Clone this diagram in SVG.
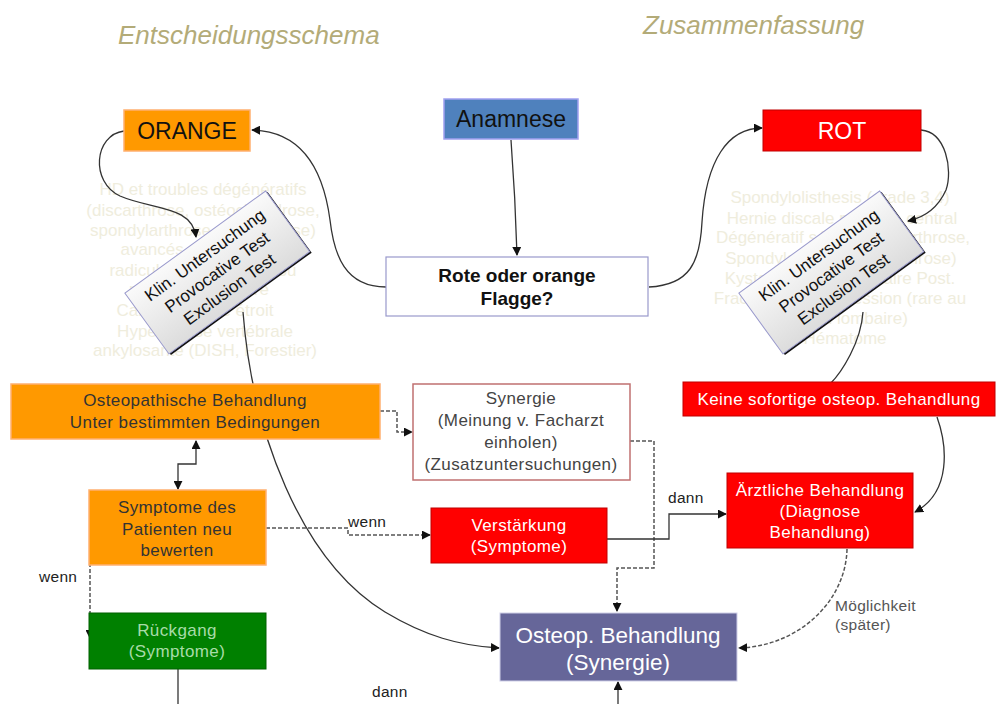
<svg xmlns="http://www.w3.org/2000/svg" width="999" height="704" viewBox="0 0 999 704">
<defs>
<marker id="a" viewBox="0 0 10 10" refX="9" refY="5" markerWidth="9" markerHeight="9" markerUnits="userSpaceOnUse" orient="auto-start-reverse"><path d="M0,0 L10,5 L0,10 z" fill="#111"/></marker>
<linearGradient id="g" x1="0" y1="0" x2="0" y2="1"><stop offset="0" stop-color="#fafafa"/><stop offset="1" stop-color="#dcdcdc"/></linearGradient>
</defs>
<style>
text{font-family:"Liberation Sans",Arial,sans-serif;text-anchor:middle}
.title{font-size:26px;font-style:italic;fill:#b3ab78;text-anchor:start}
.faint{font-size:17px;fill:#efeddd}
.c{fill:none;stroke:#333;stroke-width:1.3}
.d{fill:none;stroke:#555;stroke-width:1.5;stroke-dasharray:4,2}
.orange{fill:#ff9900;stroke:#ffb070;stroke-width:1.5}
.red{fill:#ff0000;stroke:#c00000;stroke-width:1}
.lab{font-size:15.5px;fill:#222;text-anchor:start;letter-spacing:0.3px}
.bt{font-size:17px;fill:#333;letter-spacing:0.4px}
.wt{font-size:17px;fill:#fff;letter-spacing:0.4px}
.rb{fill:url(#g);stroke:#9999cc;stroke-width:1}
.rt{font-size:17px;fill:#111}
</style>

<text class="title" x="118" y="44">Entscheidungsschema</text>
<text class="title" x="643" y="34">Zusammenfassung</text>

<g id="faint-left">
<text class="faint" x="203" y="195">HD et troubles dégénératifs</text>
<text class="faint" x="203" y="216">(discarthrose, ostéochondrose,</text>
<text class="faint" x="203" y="236">spondylarthrose, uncarthrose)</text>
<text class="faint" x="205" y="255">avancés, compression</text>
<text class="faint" x="203" y="276">radiculalgie déficitaire ou</text>
<text class="faint" x="199" y="295">pseudo-radiculaire</text>
<text class="faint" x="195" y="316">Canal lombaire étroit</text>
<text class="faint" x="205" y="337">Hyperostose vertébrale</text>
<text class="faint" x="205" y="356">ankylosante (DISH, Forestier)</text>
</g>
<g id="faint-right">
<text class="faint" x="840" y="203">Spondylolisthesis (grade 3,4)</text>
<text class="faint" x="842" y="224">Hernie discale massive central</text>
<text class="faint" x="843" y="243">Dégénératif sévère (Discarthrose,</text>
<text class="faint" x="841" y="264">Spondylarthrose, Uncarthrose)</text>
<text class="faint" x="840" y="284">Kyste synovial articulaire Post.</text>
<text class="faint" x="840" y="304">Fracture de compression (rare au</text>
<text class="faint" x="845" y="324">niveau lombaire)</text>
<text class="faint" x="845" y="344">Hématome</text>
</g>

<g id="connectors">
<path class="c" d="M511,140 C514,180 516,220 517,255" marker-end="url(#a)"/>
<path class="c" d="M386,287 C345,287 334,255 330,220 C322,160 295,131 252,130" marker-end="url(#a)"/>
<path class="c" d="M649,287 C690,285 700,262 702,222 C706,160 728,128 762,128" marker-end="url(#a)"/>
<path class="c" d="M124,131 C94,135 90,182 120,196 C152,210 192,205 196,237" marker-end="url(#a)"/>
<path class="c" d="M921,130 C946,132 953,170 946,190 C937,210 922,218 908,221" marker-end="url(#a)"/>
<path class="c" d="M243,312 C252,430 300,560 385,612 C425,636 460,646 499,648" marker-end="url(#a)"/>
<path class="c" d="M863,312 C861,342 842,372 830,384"/>
<path class="c" d="M937,417 C947,445 952,492 915,512" marker-end="url(#a)"/>
<path class="c" d="M196,441 V464 H178 V489" stroke-width="1.8" marker-start="url(#a)" marker-end="url(#a)"/>
<path class="d" d="M380,411 H397 V432 H412" marker-end="url(#a)"/>
<path class="d" d="M630,441 H654 V568 H617 V611" marker-end="url(#a)"/>
<path class="d" d="M266,528 H348 V535 H430" marker-end="url(#a)"/>
<path class="d" d="M90,527 V638" marker-end="url(#a)"/>
<path class="c" d="M607,539 H669 V514 H726" stroke-width="2" marker-end="url(#a)"/>
<path class="d" d="M847,549 C846,600 800,646 739,648" marker-end="url(#a)"/>
<path class="c" d="M178,669 V704"/>
<path class="c" d="M618,704 V682" stroke-width="1.8" marker-end="url(#a)"/>
<text class="lab" x="348" y="527">wenn</text>
<text class="lab" x="39" y="582">wenn</text>
<text class="lab" x="668" y="503">dann</text>
<text class="lab" x="372" y="697">dann</text>
<text class="lab" x="835" y="611" style="fill:#555">Möglichkeit</text>
<text class="lab" x="835" y="630" style="fill:#555">(später)</text>
</g>

<g id="orange">
<rect class="orange" x="124" y="110" width="126" height="41"/>
<text x="187" y="139" font-size="23" fill="#111">ORANGE</text>
</g>
<g id="anamnese">
<rect x="444" y="99" width="134" height="40" fill="#4f81bd" stroke="#a0a0f0" stroke-width="1.5"/>
<text x="511" y="127" font-size="23" fill="#111">Anamnese</text>
</g>
<g id="rot">
<rect class="red" x="763" y="110" width="158" height="41"/>
<text x="842" y="139" font-size="23" fill="#fff">ROT</text>
</g>
<g id="flagge">
<rect x="386" y="257" width="262" height="59" fill="#fff" stroke="#9999cc" stroke-width="1.2"/>
<text x="517" y="282" font-size="19" font-weight="bold" fill="#111">Rote oder orange</text>
<text x="517" y="305" font-size="19" font-weight="bold" fill="#111">Flagge?</text>
</g>
<g id="klin-left" transform="translate(217,272) rotate(-36)">
<rect x="-86" y="-35" width="174" height="75" fill="#111"/>
<rect class="rb" x="-87" y="-37" width="174" height="75"/>
<text class="rt" y="-15">Klin. Untersuchung</text>
<text class="rt" y="6">Provocative Test</text>
<text class="rt" y="27">Exclusion Test</text>
</g>
<g id="klin-right" transform="translate(831,272) rotate(-36)">
<rect x="-86" y="-35" width="174" height="75" fill="#111"/>
<rect class="rb" x="-87" y="-37" width="174" height="75"/>
<text class="rt" y="-15">Klin. Untersuchung</text>
<text class="rt" y="6">Provocative Test</text>
<text class="rt" y="27">Exclusion Test</text>
</g>
<g id="osteo-bedingungen">
<rect class="orange" x="11" y="384" width="369" height="55"/>
<text class="bt" x="195" y="406">Osteopathische Behandlung</text>
<text class="bt" x="195" y="428">Unter bestimmten Bedingungen</text>
</g>
<g id="synergie-fach">
<rect x="413" y="384" width="217" height="96" fill="#fff" stroke="#c07070" stroke-width="1.5"/>
<text class="bt" x="521" y="404" style="fill:#444">Synergie</text>
<text class="bt" x="521" y="426" style="fill:#444">(Meinung v. Facharzt</text>
<text class="bt" x="521" y="448" style="fill:#444">einholen)</text>
<text class="bt" x="521" y="470" style="fill:#444">(Zusatzuntersuchungen)</text>
</g>
<g id="keine">
<rect class="red" x="683" y="382" width="312" height="34"/>
<text class="wt" x="839" y="405">Keine sofortige osteop. Behandlung</text>
</g>
<g id="symptome">
<rect class="orange" x="89" y="490" width="177" height="75"/>
<text class="bt" x="177" y="513">Symptome des</text>
<text class="bt" x="177" y="535">Patienten neu</text>
<text class="bt" x="177" y="556">bewerten</text>
</g>
<g id="verstaerkung">
<rect class="red" x="431" y="508" width="176" height="55"/>
<text class="wt" x="519" y="531">Verstärkung</text>
<text class="wt" x="519" y="552">(Symptome)</text>
</g>
<g id="aerztliche">
<rect class="red" x="727" y="473" width="186" height="75"/>
<text class="wt" x="820" y="496">Ärztliche Behandlung</text>
<text class="wt" x="820" y="517">(Diagnose</text>
<text class="wt" x="820" y="538">Behandlung)</text>
</g>
<g id="rueckgang">
<rect x="89" y="613" width="177" height="56" fill="#008000" stroke="#006000" stroke-width="1"/>
<text class="bt" x="177" y="636" style="fill:#a8dca8">Rückgang</text>
<text class="bt" x="177" y="657" style="fill:#a8dca8">(Symptome)</text>
</g>
<g id="osteop-synergie">
<rect x="500" y="613" width="237" height="68" fill="#666699" stroke="#d0d0e8" stroke-width="1"/>
<text x="618" y="643" font-size="22.5" fill="#fff">Osteop. Behandlung</text>
<text x="618" y="670" font-size="22.5" fill="#fff">(Synergie)</text>
</g>
</svg>
